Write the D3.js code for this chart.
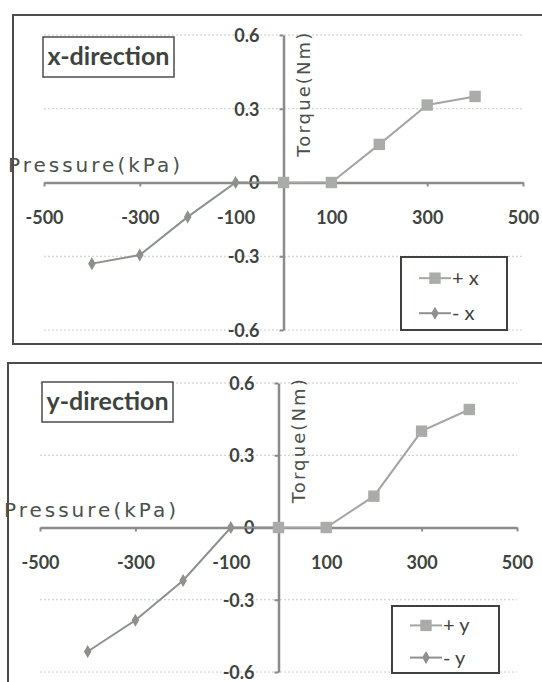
<!DOCTYPE html>
<html lang="en">
<head>
  <meta charset="UTF-8">
  <title>Torque vs pressure</title>
  <script src="https://cdn.jsdelivr.net/npm/d3@7/dist/d3.min.js"></script>
<style>
  body { margin: 0; background: #fff; }
  svg { display: block; }
</style>
</head>

<body>
  <script>
    // pressure steps (kPa)
    var posPressure = [0, 100, 200, 300, 400];
    var negPressure = [-400, -300, -200, -100, 0];

    // torque (Nm)
    var plusX = [0, 0, 0.155, 0.315, 0.35];
    var minusX = [-0.33, -0.295, -0.14, 0, 0];
    var plusY = [0, 0, 0.13, 0.40, 0.49];
    var minusY = [-0.515, -0.385, -0.22, 0, 0];

    var xTicks = [-500, -300, -100, 100, 300, 500];
    var yTicks = [-0.6, -0.3, 0, 0.3, 0.6];
    var gridTicks = [-0.6, -0.3, 0.3, 0.6];

    var w = 542;
    var h = 682;

    var svg = d3.select('body')
                .append('svg')
                .attr('width', w)
                .attr('height', h);

    var panels = [
      { title: 'x-direction', plus: plusX, minus: minusX, plusName: '+ x', minusName: '- x',
        frame: [13, 15, 560, 344], xr: [44, 523], yr: [330, 35],
        titleBox: [43, 37, 131, 40], legend: [401, 257, 106, 73] },
      { title: 'y-direction', plus: plusY, minus: minusY, plusName: '+ y', minusName: '- y',
        frame: [8, 363, 560, 700], xr: [40, 517], yr: [672, 383],
        titleBox: [42, 382, 131, 40], legend: [392, 606, 107, 67] }
    ];

    var textCol = '#3e433e';
    var axisCol = '#8a8c8a';
    // plain hyphen for negatives, like the original
    var fmtX = d => String(d);
    var fmtY = d => d === 0 ? '0' : d.toFixed(1);

    panels.forEach(function(p) {
      var g = svg.append('g');

      // outer frame
      g.append('rect')
        .attr('x', p.frame[0]).attr('y', p.frame[1])
        .attr('width', p.frame[2] - p.frame[0])
        .attr('height', p.frame[3] - p.frame[1])
        .attr('fill', 'none')
        .attr('stroke', '#4a4d4a')
        .attr('stroke-width', 2);

      var x = d3.scaleLinear().domain([-500, 500]).range(p.xr);
      var y = d3.scaleLinear().domain([-0.6, 0.6]).range(p.yr);

      // dotted gridlines
      g.selectAll('line.grid')
        .data(gridTicks)
        .enter()
        .append('line')
        .attr('class', 'grid')
        .attr('x1', p.xr[0]).attr('x2', p.xr[1])
        .attr('y1', d => y(d)).attr('y2', d => y(d))
        .attr('stroke', '#c8cac8')
        .attr('stroke-width', 1)
        .attr('stroke-dasharray', '2,2');

      // x axis through zero
      var xAxis = g.append('g')
        .attr('transform', 'translate(0,' + y(0) + ')')
        .call(d3.axisBottom(x).tickValues(xTicks).tickSize(4).tickPadding(25).tickSizeOuter(0).tickFormat(fmtX));

      // y axis through zero
      var yAxis = g.append('g')
        .attr('transform', 'translate(' + x(0) + ',0)')
        .call(d3.axisLeft(y).tickValues(yTicks).tickSize(4).tickPadding(20).tickSizeOuter(0).tickFormat(fmtY));

      [xAxis, yAxis].forEach(function(a) {
        a.select('.domain').attr('stroke', axisCol).attr('stroke-width', 2.5);
        a.selectAll('.tick line').attr('stroke', axisCol).attr('stroke-width', 2);
        a.selectAll('text')
          .attr('fill', textCol)
          .attr('font-family', 'Lato, sans-serif')
          .attr('font-weight', 'bold')
          .attr('font-size', '18px');
      });
      yAxis.selectAll('text').attr('dy', '0.36em');

      // axis titles
      g.append('text')
        .text('Pressure(kPa)')
        .attr('x', p.xr[0] - 36)
        .attr('y', y(0) - 11)
        .attr('textLength', 172)
        .attr('lengthAdjust', 'spacing')
        .attr('font-family', 'DejaVu Sans, sans-serif')
        .attr('font-size', '20px')
        .attr('fill', '#4a514a');

      g.append('text')
        .text('Torque(Nm)')
        .attr('transform', 'translate(' + (x(0) + 26) + ',' + (y(0.3) - 14) + ') rotate(-90)')
        .attr('text-anchor', 'middle')
        .attr('textLength', 124)
        .attr('lengthAdjust', 'spacing')
        .attr('font-family', 'DejaVu Sans, sans-serif')
        .attr('font-size', '18px')
        .attr('fill', '#4a514a');

      // series lines
      var line = d3.line()
        .x(d => x(d[0]))
        .y(d => y(d[1]));

      var plusPts = posPressure.map((d, i) => [d, p.plus[i]]);
      var minusPts = negPressure.map((d, i) => [d, p.minus[i]]);

      g.append('path')
        .datum(minusPts)
        .attr('d', line)
        .attr('fill', 'none')
        .attr('stroke', '#8d918d')
        .attr('stroke-width', 2);

      g.append('path')
        .datum(plusPts)
        .attr('d', line)
        .attr('fill', 'none')
        .attr('stroke', '#a3a6a3')
        .attr('stroke-width', 2);

      var diamond = d3.symbol().type(d3.symbolDiamond).size(50);
      var square = d3.symbol().type(d3.symbolSquare).size(130);

      g.selectAll('path.minus')
        .data(minusPts)
        .enter()
        .append('path')
        .attr('class', 'minus')
        .attr('d', diamond)
        .attr('transform', d => 'translate(' + x(d[0]) + ',' + y(d[1]) + ')')
        .attr('fill', '#8d918d');

      g.selectAll('path.plus')
        .data(plusPts)
        .enter()
        .append('path')
        .attr('class', 'plus')
        .attr('d', square)
        .attr('transform', d => 'translate(' + x(d[0]) + ',' + y(d[1]) + ')')
        .attr('fill', '#a9aca9');

      // title box
      g.append('rect')
        .attr('x', p.titleBox[0]).attr('y', p.titleBox[1])
        .attr('width', p.titleBox[2]).attr('height', p.titleBox[3])
        .attr('fill', '#fff')
        .attr('stroke', '#4a4d4a')
        .attr('stroke-width', 1.5);

      g.append('text')
        .text(p.title)
        .attr('x', p.titleBox[0] + p.titleBox[2] / 2)
        .attr('y', p.titleBox[1] + p.titleBox[3] / 2)
        .attr('dy', '0.33em')
        .attr('text-anchor', 'middle')
        .attr('textLength', 122)
        .attr('lengthAdjust', 'spacingAndGlyphs')
        .attr('font-family', 'Lato, sans-serif')
        .attr('font-weight', 'bold')
        .attr('font-size', '24px')
        .attr('fill', textCol);

      // legend
      var lg = p.legend;
      g.append('rect')
        .attr('x', lg[0]).attr('y', lg[1])
        .attr('width', lg[2]).attr('height', lg[3])
        .attr('fill', '#fff')
        .attr('stroke', '#3e423e')
        .attr('stroke-width', 2);

      var items = [
        { name: p.plusName, sym: square, col: '#a9aca9', lc: '#a3a6a3' },
        { name: p.minusName, sym: diamond, col: '#8d918d', lc: '#8d918d' }
      ];

      var rowY = d3.scalePoint().domain([0, 1]).range([lg[1] + lg[3] * 0.29, lg[1] + lg[3] * 0.77]);

      items.forEach(function(it, i) {
        var cy = rowY(i);
        var lx = lg[0] + 18;
        g.append('line')
          .attr('x1', lx).attr('x2', lx + 32)
          .attr('y1', cy).attr('y2', cy)
          .attr('stroke', it.lc)
          .attr('stroke-width', 2);
        g.append('path')
          .attr('d', it.sym)
          .attr('transform', 'translate(' + (lx + 16) + ',' + cy + ')')
          .attr('fill', it.col);
        g.append('text')
          .text(it.name)
          .attr('x', lx + 33)
          .attr('y', cy)
          .attr('dy', '0.35em')
          .attr('font-family', 'Lato, sans-serif')
          .attr('font-size', '20px')
          .attr('fill', textCol);
      });
    });
  </script>
</body>
</html>
